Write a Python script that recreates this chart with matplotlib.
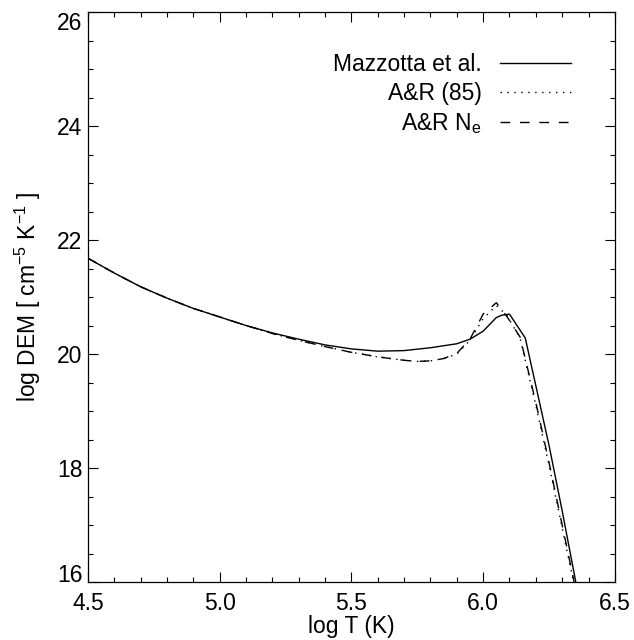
import numpy as np
import matplotlib
matplotlib.use('Agg')
import matplotlib.pyplot as plt
from matplotlib.ticker import MultipleLocator, FormatStrFormatter

plt.rcParams['font.family'] = ['Liberation Sans', 'DejaVu Sans']
plt.rcParams['mathtext.fontset'] = 'custom'
plt.rcParams['mathtext.rm'] = 'Liberation Sans'
plt.rcParams['mathtext.it'] = 'Liberation Sans'

# Mazzotta et al.
t_maz = [4.5, 4.6, 4.7, 4.8, 4.9, 5.0, 5.1, 5.2, 5.3, 5.4, 5.5, 5.6, 5.7, 5.8,
         5.9, 5.95, 6.0, 6.05, 6.07, 6.1, 6.16, 6.25, 6.3, 6.36]
dem_maz = [21.68, 21.42, 21.18, 20.98, 20.80, 20.65, 20.50, 20.37, 20.26, 20.16,
           20.09, 20.05, 20.06, 20.11, 20.18, 20.26, 20.40, 20.64, 20.68, 20.70,
           20.28, 18.40, 17.25, 15.80]

# A&R (85)
t_ar = [4.5, 4.6, 4.7, 4.8, 4.9, 5.0, 5.1, 5.2, 5.3, 5.4, 5.5, 5.6, 5.7, 5.75,
        5.8, 5.85, 5.9, 5.95, 6.0, 6.05, 6.09, 6.14, 6.2, 6.25, 6.3, 6.35]
dem_ar = [21.68, 21.42, 21.18, 20.98, 20.80, 20.65, 20.50, 20.36, 20.24, 20.13,
          20.03, 19.95, 19.89, 19.87, 19.88, 19.92, 20.00, 20.24, 20.62, 20.85,
          20.68, 20.28, 19.10, 18.05, 16.95, 15.85]

# A&R Ne
t_are = [4.5, 4.6, 4.7, 4.8, 4.9, 5.0, 5.1, 5.2, 5.3, 5.4, 5.5, 5.6, 5.7, 5.75,
         5.8, 5.85, 5.9, 5.95, 6.0, 6.05, 6.09, 6.14, 6.2, 6.25, 6.3, 6.35]
dem_are = [21.68, 21.42, 21.18, 20.98, 20.80, 20.65, 20.50, 20.36, 20.24, 20.13,
           20.03, 19.95, 19.89, 19.87, 19.88, 19.92, 20.01, 20.26, 20.70, 20.90,
           20.66, 20.30, 19.15, 18.10, 17.00, 15.90]

fs = 16.5

fig = plt.figure(figsize=(6.34, 6.40), dpi=100)
ax = fig.add_axes([0.1388, 0.0906, 0.831, 0.8906])

ax.plot(t_maz, dem_maz, color='black', lw=1.0, label='Mazzotta et al.')
ax.plot(t_ar, dem_ar, color='black', lw=1.0, ls=(0, (1, 4)), label='A&R (85)')
ax.plot(t_are, dem_are, color='black', lw=1.0, ls=(0, (7, 7)), label=r'A&R N$_{\rm e}$')

ax.set_xlim(4.5, 6.5)
ax.set_ylim(16, 26)
ax.xaxis.set_major_locator(MultipleLocator(0.5))
ax.xaxis.set_minor_locator(MultipleLocator(0.1))
ax.yaxis.set_major_locator(MultipleLocator(2))
ax.yaxis.set_minor_locator(MultipleLocator(0.5))
ax.xaxis.set_major_formatter(FormatStrFormatter('%.1f'))
ax.tick_params(which='both', direction='in', top=True, right=True, labelsize=fs)
ax.tick_params(which='major', length=7, width=0.8)
ax.tick_params(which='minor', length=3.6, width=0.8)
ax.tick_params(axis='x', which='major', pad=7)
ax.tick_params(axis='y', which='major', pad=4)
for s in ax.spines.values():
    s.set_linewidth(0.9)

# IDL style: end labels sit inside the axis range
fig.canvas.draw()
for tk in ax.yaxis.get_major_ticks():
    if np.isclose(tk.get_loc(), 16):
        tk.label1.set_va('baseline')
    elif np.isclose(tk.get_loc(), 26):
        tk.label1.set_va('top')

ax.set_xlabel('log T (K)', fontsize=fs, labelpad=0.5)
ax.set_ylabel(r'log DEM [ cm$^{-5}$ K$^{-1}$ ]', fontsize=fs, labelpad=10)

ax.legend(loc='upper right', bbox_to_anchor=(0.917, 0.928), frameon=False,
          markerfirst=False, fontsize=fs, handlelength=3.1, handletextpad=0.8,
          labelspacing=0.26, borderaxespad=0, borderpad=0)

plt.savefig('out.png', dpi=100)
